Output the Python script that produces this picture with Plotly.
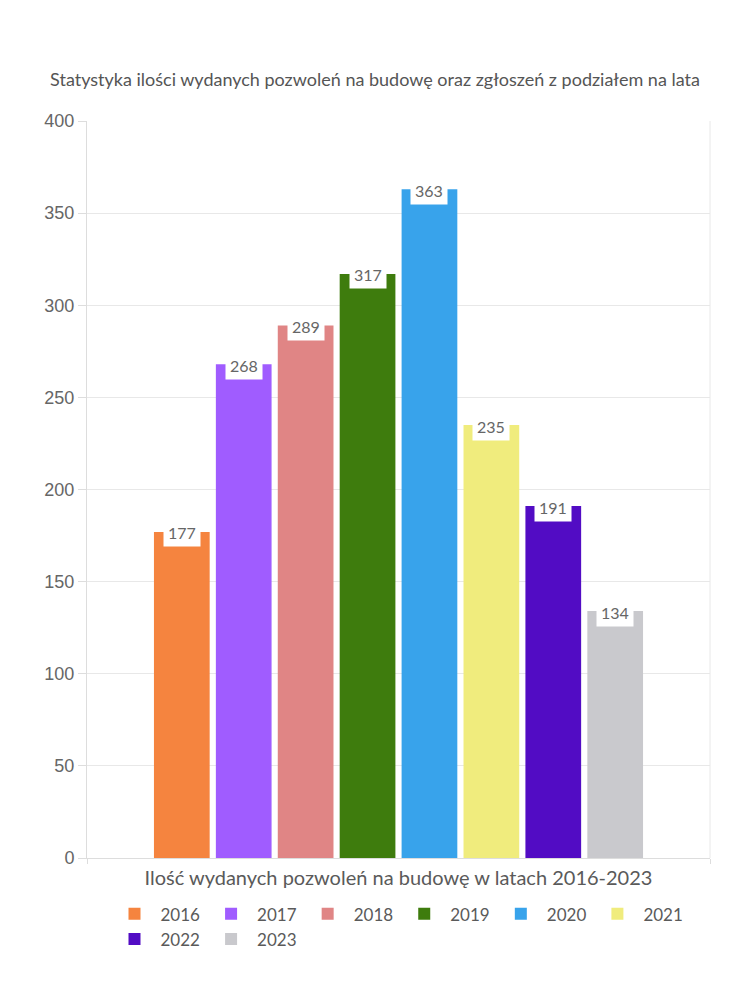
import plotly.graph_objects as go

years = ["2016", "2017", "2018", "2019", "2020", "2021", "2022", "2023"]
values = [177, 268, 289, 317, 363, 235, 191, 134]
colors = ["#F5843F", "#A05CFF", "#E08585", "#3E7C0D", "#38A3EB", "#F0EC7D", "#520CC4", "#C9C9CD"]
category = ["Ilość wydanych pozwoleń na budowę w latach 2016-2023"]
y_ticks = [0, 50, 100, 150, 200, 250, 300, 350, 400]

label_font = "Lato, 'Open Sans', sans-serif"

fig = go.Figure()
for yr, v, c in zip(years, values, colors):
    fig.add_trace(go.Bar(name=yr, x=category, y=[v], marker=dict(color=c, line=dict(width=0)),
                         hoverinfo="y"))

bargap = 0.205
n = len(years)
slot = (1 - bargap) / n
for i, v in enumerate(values):
    xc = -(1 - bargap) / 2 + (i + 0.5) * slot
    fig.add_annotation(x=xc, y=v, xref="x", yref="y", text=str(v), showarrow=False,
                       yshift=-1, bgcolor="white", borderpad=4,
                       font=dict(size=16, color="#666666", family=label_font))

fig.update_layout(
    width=750, height=1000,
    paper_bgcolor="white", plot_bgcolor="white",
    margin=dict(l=87, r=40, t=121, b=142),
    barmode="group", bargap=bargap, bargroupgap=0.1,
    title=dict(text="Statystyka ilości wydanych pozwoleń na budowę oraz zgłoszeń z podziałem na lata",
               x=0.5, xanchor="center", y=0.92, yanchor="middle",
               font=dict(size=18, color="#555555", family=label_font)),
    xaxis=dict(showticklabels=False, ticks="outside", tickson="boundaries", ticklen=5,
               tickcolor="#dddddd", showline=True, linecolor="#dddddd", mirror=False,
               title=dict(text=category[0], standoff=12,
                          font=dict(size=20, color="#5a5a5a", family=label_font))),
    yaxis=dict(range=[0, 400], tickvals=y_ticks, ticks="outside", ticklen=8, tickcolor="#dddddd",
               showline=True, linecolor="#dddddd", gridcolor="#e8e8e8", zeroline=False,
               tickfont=dict(size=18, color="#666666", family="'Liberation Sans', Arial, sans-serif")),
    legend=dict(orientation="h", x=0.5, xanchor="center", y=-0.052, yanchor="top",
                font=dict(size=17, color="#5a5a5a", family=label_font), itemwidth=42,
                traceorder="normal"),
    showlegend=True,
)
# right border line
fig.add_shape(type="line", xref="paper", yref="paper", x0=1, x1=1, y0=0, y1=1,
              line=dict(color="#e8e8e8", width=1))

fig.write_html("out.html")
